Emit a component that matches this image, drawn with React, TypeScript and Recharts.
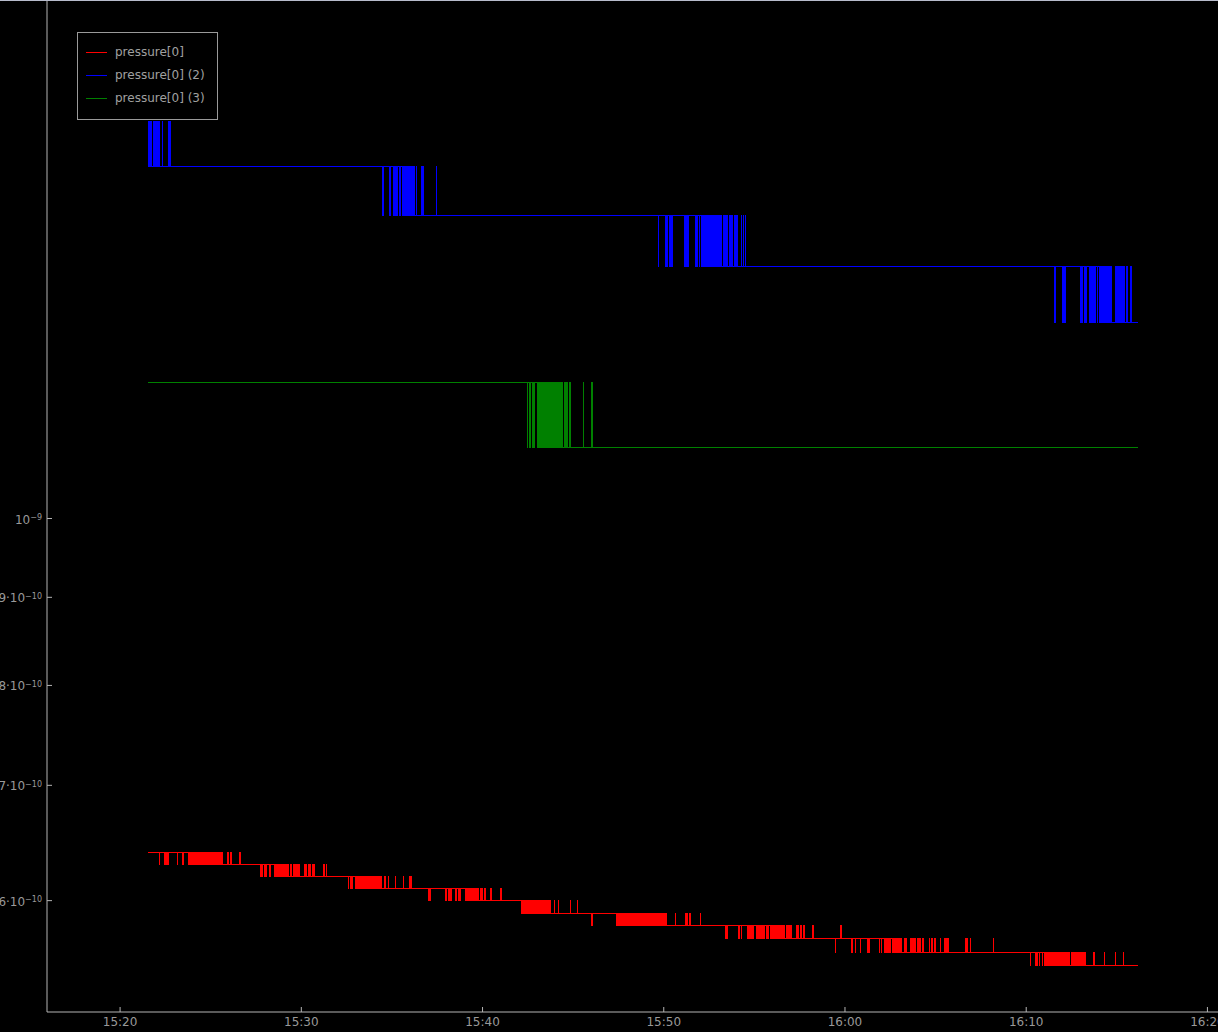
import React from 'react';
import { LineChart, Line, XAxis, YAxis } from 'recharts';

// time: seconds after 15:20:00, pressure: units of 1e-10
const xTicks = [0, 600, 1200, 1800, 2400, 3000, 3600];
const xTickLabels = ['15:20', '15:30', '15:40', '15:50', '16:00', '16:10', '16:20'];
const yTicks = [6, 7, 8, 9, 10];
const yTickMantissa = ['6·10', '7·10', '8·10', '9·10', '10'];
const yTickExponent = ['−10', '−10', '−10', '−10', '−9'];

const seriesNames = ['pressure[0]', 'pressure[0] (2)', 'pressure[0] (3)'];
const seriesColors = ['#ff0000', '#0000ff', '#008000'];

const endTime = 3371;

type Phase = { from: number; level: number; alt: number; spikes: number[] };

// pressure[0]
const redPhases: Phase[] = [
  { from: 92, level: 6.4, alt: 6.3, spikes: [129, 146, 149, 155, 158, 190, 208, 226, 229, 232, 235, 238, 241, 244, 247, 250, 253, 256, 259, 262, 265] },
  { from: 268, level: 6.3, alt: 6.4, spikes: [271, 274, 277, 280, 283, 286, 289, 292, 295, 300, 303, 306, 310, 316, 320, 327, 330, 333, 337, 355, 357, 364, 367, 394, 399] },
  { from: 460, level: 6.3, alt: 6.2, spikes: [466, 469, 477, 482, 485, 494, 498, 512, 515, 518, 521, 524, 527, 530] },
  { from: 533, level: 6.2, alt: 6.3, spikes: [536, 539, 542, 545, 548, 551, 554, 557, 563, 567, 574, 579, 585, 589, 593, 609, 615, 624, 628, 637, 641, 673, 677, 683] },
  { from: 750, level: 6.2, alt: 6.1, spikes: [756, 764, 767, 779, 782, 785, 788, 791, 794, 797, 800, 803, 806, 809, 812, 815, 818] },
  { from: 821, level: 6.1, alt: 6.2, spikes: [824, 827, 830, 833, 836, 839, 842, 845, 848, 851, 854, 857, 860, 863, 877, 888, 912, 938, 958, 962, 965] },
  { from: 1000, level: 6.1, alt: 6.0, spikes: [1022, 1025, 1028, 1076, 1080, 1087, 1091, 1094, 1097, 1109, 1114, 1120, 1124, 1127, 1142, 1145, 1148, 1151, 1154, 1157] },
  { from: 1160, level: 6.0, alt: 6.1, spikes: [1163, 1166, 1169, 1172, 1175, 1181, 1185, 1194, 1200, 1208, 1225, 1230, 1261, 1263] },
  { from: 1300, level: 6.0, alt: 5.9, spikes: [1328, 1331, 1334, 1337, 1340, 1343, 1346, 1349, 1352, 1355, 1358, 1361, 1364, 1367, 1370, 1373, 1376] },
  { from: 1379, level: 5.9, alt: 6.0, spikes: [1382, 1385, 1388, 1391, 1394, 1397, 1400, 1403, 1406, 1409, 1412, 1415, 1418, 1421, 1424, 1438, 1451, 1490, 1514] },
  { from: 1540, level: 5.9, alt: 5.8, spikes: [1560, 1564, 1642, 1645, 1648, 1651, 1654, 1657, 1660, 1663, 1666, 1669, 1672, 1675, 1678, 1681, 1684, 1687, 1690, 1693, 1696, 1699, 1702, 1705, 1708, 1711, 1714, 1717, 1720, 1723] },
  { from: 1726, level: 5.8, alt: 5.9, spikes: [1729, 1732, 1735, 1738, 1741, 1744, 1747, 1750, 1753, 1756, 1759, 1762, 1766, 1770, 1774, 1778, 1782, 1786, 1790, 1795, 1800, 1805, 1809, 1839, 1873, 1879, 1886, 1920] },
  { from: 1950, level: 5.8, alt: 5.7, spikes: [2006, 2010, 2047, 2051, 2056, 2078, 2082, 2087, 2091, 2095, 2108, 2112, 2117, 2121, 2125, 2130, 2134, 2139, 2143, 2147, 2152, 2155, 2158, 2161, 2164, 2167, 2170, 2173, 2176] },
  { from: 2179, level: 5.7, alt: 5.8, spikes: [2182, 2185, 2188, 2191, 2194, 2197, 2200, 2208, 2212, 2217, 2222, 2238, 2244, 2252, 2256, 2261, 2266, 2294] },
  { from: 2350, level: 5.7, alt: 5.6, spikes: [2367] },
  { from: 2380, level: 5.7, alt: 5.8, spikes: [2386] },
  { from: 2400, level: 5.7, alt: 5.6, spikes: [2423, 2434, 2450, 2474, 2479, 2514, 2520, 2530, 2533, 2539, 2543, 2547, 2551, 2556, 2559, 2562, 2565, 2568, 2571] },
  { from: 2574, level: 5.6, alt: 5.7, spikes: [2577, 2580, 2583, 2587, 2596, 2600, 2604, 2616, 2620, 2625, 2629, 2633, 2641, 2645, 2650, 2655, 2660, 2680, 2685, 2689, 2698, 2715, 2729, 2734, 2739, 2743, 2798, 2803, 2814, 2891] },
  { from: 2950, level: 5.6, alt: 5.5, spikes: [3013, 3030, 3034, 3038, 3043, 3054, 3059, 3065, 3069, 3073, 3077, 3080, 3083, 3086, 3089, 3092, 3095, 3098, 3101, 3104] },
  { from: 3107, level: 5.5, alt: 5.6, spikes: [3110, 3113, 3116, 3119, 3122, 3125, 3128, 3131, 3134, 3138, 3142, 3151, 3155, 3160, 3164, 3168, 3174, 3177, 3180, 3183, 3186, 3189, 3192, 3196, 3223, 3226, 3258, 3294, 3322] },
];

// pressure[0] (2)
const bluePhases: Phase[] = [
  { from: 92, level: 16, alt: 17, spikes: [93, 98, 102, 109, 112, 115, 118, 121, 124, 127, 130, 139, 160, 163, 165] },
  { from: 860, level: 16, alt: 15, spikes: [868, 872, 891, 895, 904, 907, 913, 918, 925, 929, 934, 937, 940, 943, 946] },
  { from: 949, level: 15, alt: 16, spikes: [952, 955, 958, 962, 966, 970, 975, 980, 999, 1003, 1046] },
  { from: 1700, level: 15, alt: 14, spikes: [1781, 1807, 1811, 1820, 1824, 1828, 1870, 1876, 1882, 1904, 1908, 1912, 1918, 1924, 1929, 1933, 1938, 1943, 1946, 1949, 1952, 1955, 1958, 1961, 1964, 1967, 1970, 1973, 1976, 1979, 1982, 1985, 1988] },
  { from: 1991, level: 14, alt: 15, spikes: [1998, 2002, 2007, 2011, 2016, 2020, 2024, 2028, 2033, 2039, 2044, 2058, 2064, 2069] },
  { from: 3000, level: 14, alt: 13, spikes: [3095, 3119, 3122, 3126, 3130, 3179, 3182, 3187, 3192, 3196, 3199, 3208, 3211, 3214, 3217, 3220, 3223, 3227, 3236, 3242, 3247, 3250, 3253, 3256, 3259, 3262, 3265, 3268, 3271, 3274, 3277, 3280] },
  { from: 3284, level: 13, alt: 14, spikes: [3294, 3297, 3300, 3303, 3306, 3309, 3312, 3316, 3320, 3324, 3331, 3335, 3344, 3349] },
];

// pressure[0] (3)
const greenPhases: Phase[] = [
  { from: 92, level: 12, alt: 11, spikes: [1348, 1357, 1365, 1368, 1372, 1381, 1384, 1387, 1390, 1393, 1396, 1399, 1402, 1405, 1410] },
  { from: 1414, level: 11, alt: 12, spikes: [1417, 1420, 1423, 1426, 1429, 1432, 1435, 1438, 1441, 1444, 1447, 1452, 1456, 1460, 1465, 1470, 1474, 1479, 1488, 1491, 1534, 1562, 1564] },
];

function buildSeries(phases: Phase[]) {
  const pts: { t: number; v: number }[] = [];
  phases.forEach((p) => {
    pts.push({ t: p.from, v: p.level });
    p.spikes.forEach((s) => {
      pts.push({ t: s, v: p.alt });
      pts.push({ t: s + 1, v: p.level });
    });
  });
  pts.push({ t: endTime, v: phases[phases.length - 1].level });
  return pts;
}

const redData = buildSeries(redPhases);
const blueData = buildSeries(bluePhases);
const greenData = buildSeries(greenPhases);

const font = '"DejaVu Sans", sans-serif';
const axisColor = '#b4b4b4';
const textColor = '#999999';

const XTick = (props: any) => {
  const { x, y, payload } = props;
  const label = xTickLabels[xTicks.indexOf(payload.value)];
  return (
    <g>
      <line x1={x} x2={x} y1={y} y2={y - 5} stroke={axisColor} />
      <text x={x} y={y + 14} textAnchor="middle" fill={textColor} fontSize={12} fontFamily={font}>
        {label}
      </text>
    </g>
  );
};

const YTick = (props: any) => {
  const { x, y, payload } = props;
  const i = yTicks.indexOf(payload.value);
  return (
    <g>
      <line x1={x} x2={x + 5} y1={y} y2={y} stroke={axisColor} />
      <text x={x - 5} y={y + 5} textAnchor="end" fill={textColor} fontSize={12} fontFamily={font}>
        {yTickMantissa[i]}
        <tspan fontSize={8} dy={-3.5}>{yTickExponent[i]}</tspan>
      </text>
    </g>
  );
};

const LegendBox = () => (
  <div
    style={{
      position: 'absolute',
      left: 77,
      top: 32,
      width: 141,
      height: 88,
      boxSizing: 'border-box',
      border: '1px solid #9a9a9a',
      background: '#000',
      fontFamily: font,
      fontSize: 12,
      color: '#a0a0a0',
      zIndex: 3,
    }}
  >
    {seriesNames.map((name, i) => (
      <React.Fragment key={name}>
        <div style={{ position: 'absolute', left: 8, top: 19 + i * 23, width: 21, height: 1, background: seriesColors[i] }} />
        <div style={{ position: 'absolute', left: 37, top: 12 + i * 23, lineHeight: '14px', whiteSpace: 'nowrap' }}>{name}</div>
      </React.Fragment>
    ))}
  </div>
);

export default function App() {
  return (
    <div style={{ position: 'absolute', left: 0, top: 0, width: 1218, height: 1032, background: '#000', overflow: 'hidden' }}>
      <div style={{ position: 'absolute', left: 0, top: 0, width: 1218, height: 1, background: '#b8bccc', zIndex: 2 }} />
      <LineChart width={1218} height={1032} margin={{ top: 0, right: 0, bottom: 0, left: 0 }}>
        <XAxis
          dataKey="t"
          type="number"
          domain={[-242, 3635]}
          allowDataOverflow
          ticks={xTicks}
          interval={0}
          height={20}
          tickSize={0}
          tickMargin={0}
          tickLine={false}
          axisLine={{ stroke: axisColor }}
          tick={<XTick />}
        />
        <YAxis
          type="number"
          scale="log"
          domain={[5.17, 20]}
          allowDataOverflow
          ticks={yTicks}
          interval={0}
          width={47}
          tickSize={0}
          tickMargin={0}
          tickLine={false}
          axisLine={{ stroke: axisColor }}
          tick={<YTick />}
        />
        <Line data={redData} dataKey="v" name={seriesNames[0]} type="stepAfter" stroke={seriesColors[0]} strokeWidth={1} dot={false} isAnimationActive={false} shapeRendering="crispEdges" />
        <Line data={blueData} dataKey="v" name={seriesNames[1]} type="stepAfter" stroke={seriesColors[1]} strokeWidth={1} dot={false} isAnimationActive={false} shapeRendering="crispEdges" />
        <Line data={greenData} dataKey="v" name={seriesNames[2]} type="stepAfter" stroke={seriesColors[2]} strokeWidth={1} dot={false} isAnimationActive={false} shapeRendering="crispEdges" />
      </LineChart>
      <LegendBox />
    </div>
  );
}
